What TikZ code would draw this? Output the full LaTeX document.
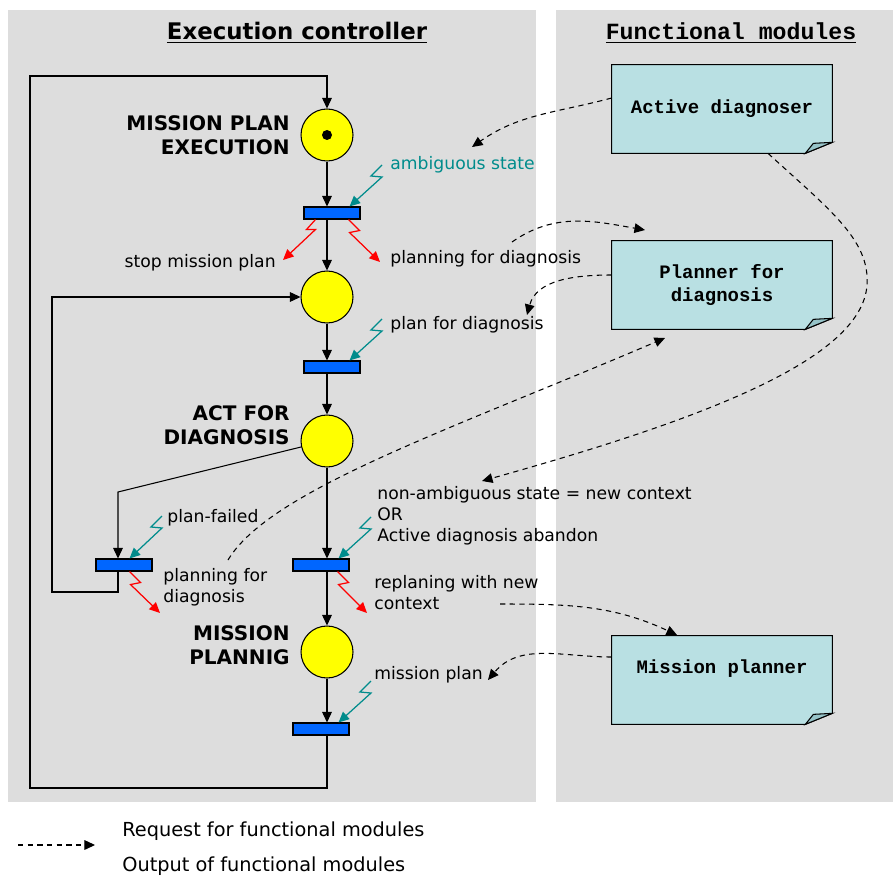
\documentclass[tikz,border=0pt]{standalone}
\usepackage{fontspec}
\setmainfont{DejaVu Sans}
\newfontfamily\monofont{Liberation Mono}
\usepackage{tikz}
\usetikzlibrary{arrows.meta,positioning,calc,backgrounds}

\definecolor{panelgray}{RGB}{221,221,221}
\definecolor{placeyellow}{RGB}{255,255,0}
\definecolor{transblue}{RGB}{0,102,255}
\definecolor{zapteal}{RGB}{0,140,140}
\definecolor{zapred}{RGB}{255,0,0}
\definecolor{notecyan}{RGB}{185,224,227}
\definecolor{foldcyan}{RGB}{150,195,200}

\begin{document}
\begin{tikzpicture}[x=0.02cm, y=-0.02cm,
    every node/.style={font=\fontsize{9.8}{12}\selectfont},
    placenode/.style={circle, draw, line width=0.6pt, fill=placeyellow, minimum size=1.04cm, inner sep=0pt},
    transbar/.style={rectangle, draw, line width=0.6pt, fill=transblue, minimum width=1.12cm, minimum height=0.24cm, inner sep=0pt},
    notebox/.style={minimum width=4.4cm, minimum height=1.76cm, align=center, font=\monofont\bfseries\fontsize{10.8}{13}\selectfont},
    statelabel/.style={align=right, anchor=east, inner sep=0pt, font=\bfseries\fontsize{11.4}{13.6}\selectfont},
    evlabel/.style={align=left, anchor=west, inner sep=0pt},
    pnarc/.style={-{Triangle[length=6pt,width=5.5pt]}, line width=0.6pt},
    zapin/.style={-{Triangle[length=6pt,width=5.5pt]}, color=zapteal, line width=0.7pt},
    zapout/.style={-{Triangle[length=6pt,width=5.5pt]}, color=zapred, line width=0.7pt},
    req/.style={-{Triangle[length=6pt,width=5.5pt]}, dash pattern=on 3pt off 2.5pt, line width=0.6pt}]

    \useasboundingbox (0,0) rectangle (895,878);

    % Gray panels
    \begin{scope}[on background layer]
        \fill[panelgray] (8,10) rectangle (536,802);
        \fill[panelgray] (556,10) rectangle (893,802);
    \end{scope}

    % Titles
    \node[font=\bfseries\fontsize{13}{15}\selectfont] (ectitle) at (297,33) {\underline{Execution controller}};
    \node[font=\monofont\bfseries\fontsize{13.2}{15}\selectfont] (fmtitle) at (731,33) {\underline{Functional modules}};

    % Places and transitions
    \node[placenode] (p1) at (327,135) {};
    \node[circle, fill, inner sep=0pt, minimum size=0.2cm] (tok) at (p1) {};
    \node[placenode] (p2) at (327,297) {};
    \node[placenode] (p3) at (327,441) {};
    \node[placenode] (p4) at (327,652) {};

    \node[transbar] (t1) at (332,213) {};
    \node[transbar] (t2) at (332,367) {};
    \node[transbar] (t3) at (124,565) {};
    \node[transbar] (t4) at (321,565) {};
    \node[transbar] (t5) at (321,729) {};

    \node[statelabel] (lexec) at (290,135) {MISSION PLAN\\EXECUTION};
    \node[statelabel] (lact) at (290,425) {ACT FOR\\DIAGNOSIS};
    \node[statelabel] (lmis) at (290,645) {MISSION\\PLANNIG};

    % Arcs of the net
    \draw[pnarc] (p1.south) -- (p1.south |- t1.north);
    \draw[pnarc] (p2 |- t1.south) -- (p2.north);
    \draw[pnarc] (p2.south) -- (p2.south |- t2.north);
    \draw[pnarc] (p3 |- t2.south) -- (p3.north);
    \draw[pnarc] (p3.south) -- (p3.south |- t4.north);
    \draw[pnarc] (p4 |- t4.south) -- (p4.north);
    \draw[pnarc] (p4.south) -- (p4.south |- t5.north);
    \draw[pnarc] (p4 |- t5.south) -- (p4 |- 0,788) -- (30,788) -- (30,76) -- (p1 |- 0,76) -- (p1.north);
    \coordinate (t3in) at ($(t3.north)+(-6,0)$);
    \draw[pnarc] (p3.193) -- (t3in |- 0,492) -- (t3in);
    \draw[pnarc] (t3in |- t3.south) -- (t3in |- 0,592) -- (52,592) -- (p2.west -| 52,0) -- (p2.west);

    % Event labels
    \node[evlabel, text=zapteal] (lamb) at (390,165) {ambiguous state};
    \node[evlabel, anchor=east] (lstop) at (276,263) {stop mission plan};
    \node[evlabel] (lplan1) at (390,259) {planning for diagnosis};
    \node[evlabel] (lpfd) at (390,325) {plan for diagnosis};
    \node[evlabel] (lfail) at (167,518) {plan-failed};
    \node[evlabel] (lplan2) at (163,587) {planning for\\diagnosis};
    \node[evlabel] (lnon) at (377,516) {non-ambiguous state = new context\\OR\\Active diagnosis abandon};
    \node[evlabel] (lrep) at (374,593) {replaning with new\\context};
    \node[evlabel] (lmp) at (374,675) {mission plan};

    % Incoming events (teal)
    \coordinate (z1) at (382,165);
    \coordinate (z2) at (382,319);
    \coordinate (z3) at (162,516);
    \coordinate (z4) at (371,517);
    \coordinate (z5) at (371,681);
    \draw[zapin] (z1) -- ++(-11,11) -- ++(11,1) -- ([xshift=-0.22cm]t1.north east);
    \draw[zapin] (z2) -- ++(-11,11) -- ++(11,1) -- ([xshift=-0.22cm]t2.north east);
    \draw[zapin] (z3) -- ++(-11,11) -- ++(11,1) -- ([xshift=-0.46cm]t3.north east);
    \draw[zapin] (z4) -- ++(-11,11) -- ++(11,1) -- ([xshift=-0.22cm]t4.north east);
    \draw[zapin] (z5) -- ++(-11,11) -- ++(11,1) -- ([xshift=-0.22cm]t5.north east);

    % Outgoing events (red)
    \coordinate (r1) at (283,260);
    \coordinate (r2) at (380,262);
    \coordinate (r3) at (160,613);
    \coordinate (r4) at (367,613);
    \draw[zapout] ([xshift=0.24cm]t1.south west) -- ++(-9,10) -- ++(9,0) -- (r1);
    \draw[zapout] ([xshift=-0.24cm]t1.south east) -- ++(11,11) -- ++(-10,2) -- (r2);
    \draw[zapout] ([xshift=-0.46cm]t3.south east) -- ++(11,11) -- ++(-10,2) -- (r3);
    \draw[zapout] ([xshift=-0.24cm]t4.south east) -- ++(11,11) -- ++(-10,2) -- (r4);

    % Functional modules
    \node[notebox] (diag) at (722,109) {Active diagnoser};
    \node[notebox] (plan) at (722,285) {Planner for\\diagnosis};
    \node[notebox] (mpl) at (722,680) {\raisebox{0.52cm}{Mission planner}};
    \begin{scope}[on background layer]
        \foreach \n in {diag,plan,mpl} {
            \draw[fill=notecyan, line width=0.6pt] (\n.north west) -- (\n.north east) -- ([yshift=0.22cm]\n.south east)
                -- ([xshift=-0.54cm]\n.south east) -- (\n.south west) -- cycle;
            \draw[fill=foldcyan, line width=0.6pt] ([xshift=-0.54cm]\n.south east) -- ([xshift=-0.38cm,yshift=0.2cm]\n.south east)
                -- ([yshift=0.22cm]\n.south east) -- cycle;
        }
    \end{scope}

    % Requests and outputs
    \coordinate (o1) at (472,147);
    \coordinate (q2) at (512,242);
    \coordinate (i2) at (645,230);
    \coordinate (o3) at (527,315);
    \coordinate (q4) at (228,560);
    \coordinate (i4) at (665,338);
    \coordinate (o5) at (482,481);
    \coordinate (q6) at (500,604);
    \coordinate (i6) at (677,635);
    \coordinate (o7) at (488,680);
    \draw[req] ([yshift=0.22cm]diag.west) to[out=195, in=35] (o1);
    \draw[req] (q2) to[out=35, in=170] (i2);
    \draw[req] ([yshift=0.2cm]plan.west) to[out=180, in=75] (o3);
    \draw[req] (q4) .. controls (270,490) and (450,430) .. (i4);
    \draw[req] ([xshift=0.92cm]diag.south) .. controls (830,210) and (870,240) .. (867,285)
        .. controls (862,360) and (700,420) .. (o5);
    \draw[req] (q6) to[out=0, in=155] (i6);
    \draw[req] ([yshift=0.46cm]mpl.west) to[out=180, in=50] (o7);

    % Legend
    \coordinate (lg1) at (18,845);
    \coordinate (lg2) at (95,845);
    \draw[req] (lg1) -- (lg2);
    \node[evlabel, font=\fontsize{11}{13}\selectfont] (lreq) at (122,831) {Request for functional modules};
    \node[evlabel, font=\fontsize{11}{13}\selectfont] (lout) at (122,866) {Output of functional modules};
\end{tikzpicture}
\end{document}
